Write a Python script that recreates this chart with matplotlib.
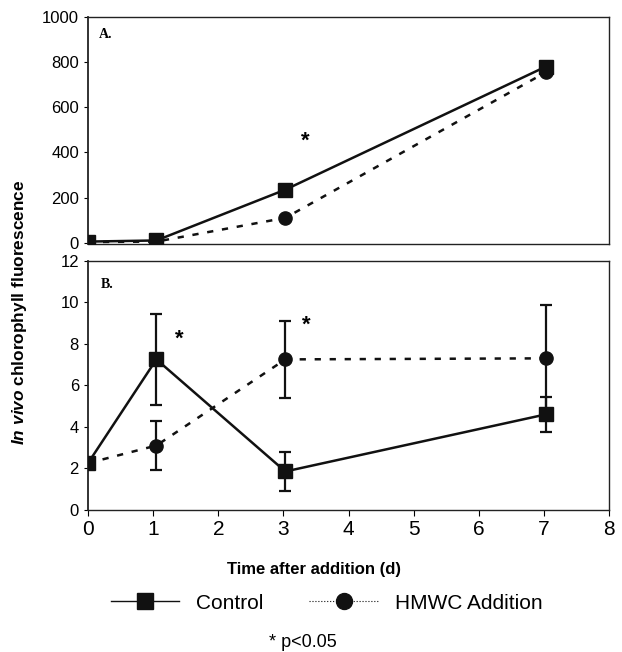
import numpy as np
import matplotlib
matplotlib.use("Agg")
import matplotlib.pyplot as plt
from matplotlib.lines import Line2D

plt.rcParams['font.family'] = ['Liberation Sans', 'DejaVu Sans']
plt.rcParams['mathtext.fontset'] = 'custom'
plt.rcParams['mathtext.it'] = 'Liberation Sans:italic:bold'

# data
days = [0, 1.05, 3.03, 7.03]

# panel A
ctrl_a = [5, 10, 235, 780]
hmwc_a = [3, 5, 110, 755]

# panel B
ctrl_b = [2.25, 7.25, 1.85, 4.6]
ctrl_b_err = [0, 2.2, 0.95, 0.85]
hmwc_b = [2.25, 3.1, 7.25, 7.3]
hmwc_b_err = [0, 1.2, 1.85, 2.55]

# significance marks (x, y)
star_a = [(3.33, 450)]
star_b = [(1.4, 8.2), (3.35, 8.9)]

fig = plt.figure(figsize=(6.22, 6.52), dpi=100)
axA = fig.add_axes([0.1415, 0.626, 0.8376, 0.348])
axB = fig.add_axes([0.1415, 0.218, 0.8376, 0.382])

ms_sq = 10
ms_ci = 9.5

# panel A
axA.plot(days, ctrl_a, color='#111', lw=1.8, marker='s', ms=ms_sq, zorder=3)
axA.plot(days, hmwc_a, color='#111', lw=1.8, ls=(0, (2.5, 3.5)), marker='o', ms=ms_ci, zorder=2)
axA.set_xlim(0, 8)
axA.set_ylim(-5, 1000)
axA.set_yticks(np.arange(0, 1001, 200))
axA.set_xticks([])
axA.tick_params(axis='y', labelsize=12, direction='out', length=3)
for x, y in star_a:
    axA.text(x, y, '*', fontsize=16, fontweight='bold', ha='center', va='center')
axA.text(0.02, 0.95, 'A.', transform=axA.transAxes, family='Liberation Serif',
         fontweight='bold', fontsize=10, va='top')

# panel B
axB.errorbar(days, ctrl_b, yerr=ctrl_b_err, color='#111', lw=1.8, marker='s', ms=ms_sq,
             capsize=4, elinewidth=1.6, capthick=1.6, zorder=3)
axB.errorbar(days, hmwc_b, yerr=hmwc_b_err, color='#111', lw=1.8, ls=(0, (2.5, 3.5)),
             marker='o', ms=ms_ci, capsize=4, elinewidth=1.6, capthick=1.6, zorder=2)
axB.set_xlim(0, 8)
axB.set_ylim(0, 12)
axB.set_yticks(np.arange(0, 13, 2))
axB.set_xticks(np.arange(0, 9, 1))
axB.tick_params(axis='y', labelsize=12, direction='out', length=3)
axB.tick_params(axis='x', labelsize=15, direction='out', length=4)
for x, y in star_b:
    axB.text(x, y, '*', fontsize=16, fontweight='bold', ha='center', va='center')
axB.text(0.025, 0.93, 'B.', transform=axB.transAxes, family='Liberation Serif',
         fontweight='bold', fontsize=10, va='top')

for ax in (axA, axB):
    for s in ax.spines.values():
        s.set_linewidth(1.0)
        s.set_color('#222')
    ax.spines['left'].set_linewidth(1.3)

fig.text(0.031, 0.521, r'$\mathit{In\ vivo}$ chlorophyll fluorescence', rotation=90,
         ha='center', va='center', fontsize=12.4, fontweight='bold')
fig.text(0.505, 0.127, 'Time after addition (d)', ha='center', va='center',
         fontsize=12, fontweight='bold')

handles = [
    Line2D([], [], color='#111', lw=1.0, marker='s', ms=11.5),
    Line2D([], [], color='#111', lw=0.8, ls=':', marker='o', ms=11.5),
]
fig.legend(handles, ['Control', 'HMWC Addition'], loc='center', ncol=2,
           bbox_to_anchor=(0.525, 0.075), frameon=False, fontsize=15,
           handlelength=3.3, columnspacing=2.2, handletextpad=0.8)
fig.text(0.487, 0.015, '* p<0.05', ha='center', va='center', fontsize=13)

fig.savefig('out.png', dpi=100)
